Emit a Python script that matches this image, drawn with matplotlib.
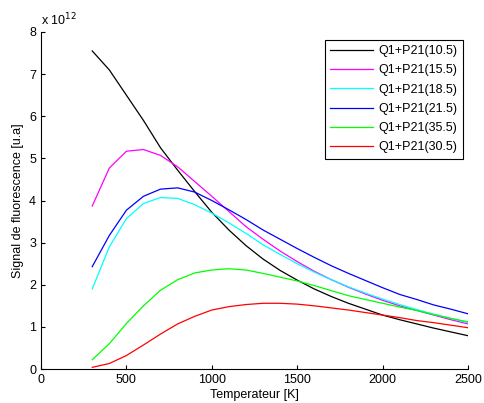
import matplotlib
matplotlib.use('Agg')
import matplotlib.pyplot as plt
import numpy as np

plt.rcParams['font.family'] = ['Liberation Sans', 'DejaVu Sans']
plt.rcParams['font.size'] = 9

temperature = np.arange(300, 2501, 100)

# signal in units of 1e12
sig_10_5 = [7.55, 7.1, 6.5, 5.9, 5.25, 4.72, 4.21, 3.72, 3.3, 2.93, 2.61, 2.34, 2.11,
            1.9, 1.72, 1.56, 1.42, 1.28, 1.17, 1.07, 0.97, 0.88, 0.79]
sig_15_5 = [3.87, 4.77, 5.17, 5.21, 5.07, 4.8, 4.45, 4.1, 3.74, 3.38, 3.08, 2.8, 2.55,
            2.32, 2.12, 1.94, 1.78, 1.63, 1.5, 1.39, 1.28, 1.17, 1.07]
sig_18_5 = [1.9, 2.9, 3.57, 3.93, 4.07, 4.05, 3.9, 3.7, 3.47, 3.22, 2.95, 2.72, 2.5,
            2.3, 2.12, 1.95, 1.8, 1.66, 1.53, 1.41, 1.3, 1.2, 1.1]
sig_21_5 = [2.43, 3.17, 3.77, 4.1, 4.27, 4.3, 4.2, 4.0, 3.78, 3.55, 3.3, 3.08, 2.86,
            2.65, 2.45, 2.27, 2.1, 1.93, 1.77, 1.65, 1.52, 1.42, 1.31]
sig_35_5 = [0.22, 0.6, 1.08, 1.5, 1.87, 2.12, 2.28, 2.35, 2.38, 2.35, 2.27, 2.18, 2.09,
            1.98, 1.86, 1.74, 1.65, 1.56, 1.47, 1.39, 1.29, 1.2, 1.12]
sig_30_5 = [0.04, 0.13, 0.32, 0.57, 0.83, 1.07, 1.25, 1.4, 1.48, 1.53, 1.56, 1.56, 1.54,
            1.5, 1.45, 1.4, 1.34, 1.28, 1.22, 1.15, 1.1, 1.04, 0.98]

series = [
    ('Q1+P21(10.5)', sig_10_5, 'black'),
    ('Q1+P21(15.5)', sig_15_5, '#ff00ff'),
    ('Q1+P21(18.5)', sig_18_5, '#00ffff'),
    ('Q1+P21(21.5)', sig_21_5, '#0000ff'),
    ('Q1+P21(35.5)', sig_35_5, '#00ff00'),
    ('Q1+P21(30.5)', sig_30_5, '#ff0000'),
]

fig = plt.figure(figsize=(4.84, 4.03), dpi=100)
ax = fig.add_axes([41 / 484, 34 / 403, 427 / 484, 337 / 403])

for label, vals, color in series:
    ax.plot(temperature, vals, color=color, linewidth=0.9, label=label)

ax.set_xlim(0, 2500)
ax.set_ylim(0, 8)
ax.set_xticks([0, 500, 1000, 1500, 2000, 2500])
ax.set_yticks(range(0, 9))
ax.tick_params(direction='in', length=3, width=0.8)
ax.spines['top'].set_visible(False)
ax.spines['right'].set_visible(False)
ax.set_xlabel('Temperateur [K]', labelpad=2)
ax.set_ylabel('Signal de fluorescence [u.a]', labelpad=4)
ax.text(0.0, 1.01, r'x 10$^{12}$', transform=ax.transAxes, ha='left', va='bottom')

leg = ax.legend(loc='upper right', bbox_to_anchor=(0.993, 0.985), fancybox=False,
                edgecolor='black', framealpha=1, handlelength=3.4,
                borderaxespad=0.2, labelspacing=0.58, handletextpad=0.4,
                borderpad=0.45)
leg.get_frame().set_linewidth(0.8)

plt.savefig('out.png', dpi=100, facecolor='white')
